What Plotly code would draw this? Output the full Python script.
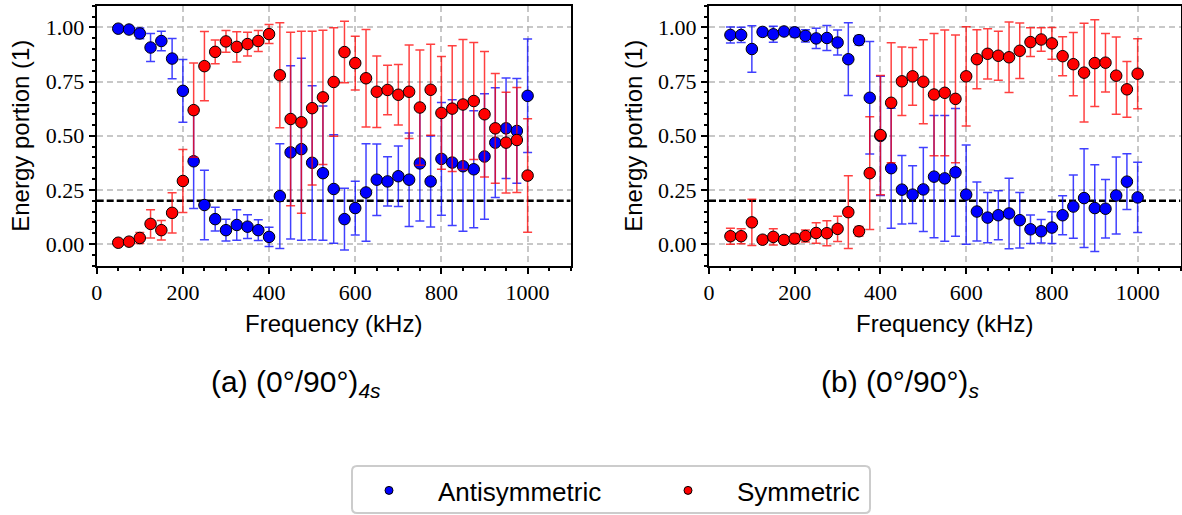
import plotly.graph_objects as go

# ---------------- data ----------------
freq_khz = [50, 75, 100, 125, 150, 175, 200, 225, 250, 275, 300, 325, 350, 375, 400,
            425, 450, 475, 500, 525, 550, 575, 600, 625, 650, 675, 700, 725, 750, 775,
            800, 825, 850, 875, 900, 925, 950, 975, 1000]

# (a) (0/90)_4s
a_antisym = [0.994, 0.990, 0.972, 0.907, 0.937, 0.856, 0.707, 0.382, 0.180, 0.115,
             0.064, 0.088, 0.080, 0.064, 0.033, 0.221, 0.423, 0.438, 0.375, 0.327,
             0.254, 0.115, 0.166, 0.238, 0.297, 0.289, 0.313, 0.297, 0.372, 0.289,
             0.393, 0.376, 0.359, 0.345, 0.404, 0.468, 0.534, 0.522, 0.684]
a_sym = [0.006, 0.011, 0.028, 0.093, 0.064, 0.144, 0.291, 0.618, 0.821, 0.887,
         0.935, 0.910, 0.923, 0.937, 0.969, 0.779, 0.577, 0.562, 0.627, 0.677,
         0.748, 0.886, 0.835, 0.765, 0.703, 0.711, 0.689, 0.703, 0.630, 0.712,
         0.605, 0.625, 0.644, 0.660, 0.599, 0.534, 0.468, 0.480, 0.316]
a_antisym_err = [0.008, 0.012, 0.025, 0.065, 0.045, 0.093, 0.145, 0.218, 0.160, 0.055,
                 0.050, 0.070, 0.055, 0.048, 0.044, 0.242, 0.400, 0.420, 0.355, 0.310,
                 0.250, 0.142, 0.124, 0.225, 0.165, 0.114, 0.140, 0.216, 0.266, 0.210,
                 0.260, 0.290, 0.300, 0.270, 0.290, 0.253, 0.232, 0.242, 0.262]
a_sym_err = [0.008, 0.012, 0.025, 0.065, 0.045, 0.093, 0.145, 0.218, 0.160, 0.055,
             0.050, 0.070, 0.055, 0.048, 0.044, 0.242, 0.400, 0.420, 0.355, 0.310,
             0.250, 0.142, 0.124, 0.225, 0.165, 0.114, 0.140, 0.216, 0.266, 0.210,
             0.260, 0.290, 0.300, 0.270, 0.290, 0.253, 0.232, 0.242, 0.262]

# (b) (0/90)_s
b_antisym = [0.965, 0.965, 0.900, 0.979, 0.968, 0.981, 0.977, 0.961, 0.949, 0.951,
             0.930, 0.853, 0.941, 0.675, 0.499, 0.350, 0.251, 0.228, 0.252, 0.311,
             0.303, 0.331, 0.228, 0.150, 0.122, 0.133, 0.141, 0.110, 0.068, 0.059,
             0.076, 0.133, 0.173, 0.212, 0.166, 0.163, 0.224, 0.288, 0.215]
b_sym = [0.036, 0.036, 0.100, 0.020, 0.033, 0.019, 0.025, 0.037, 0.051, 0.050,
         0.070, 0.147, 0.059, 0.327, 0.503, 0.652, 0.751, 0.774, 0.749, 0.690,
         0.698, 0.670, 0.774, 0.853, 0.878, 0.869, 0.862, 0.892, 0.932, 0.944,
         0.926, 0.867, 0.830, 0.791, 0.835, 0.837, 0.777, 0.714, 0.786]
b_antisym_err = [0.037, 0.035, 0.107, 0.017, 0.037, 0.012, 0.022, 0.028, 0.047, 0.058,
                 0.058, 0.168, 0.022, 0.260, 0.275, 0.277, 0.158, 0.133, 0.194, 0.282,
                 0.290, 0.295, 0.229, 0.136, 0.116, 0.113, 0.163, 0.128, 0.066, 0.054,
                 0.073, 0.090, 0.146, 0.228, 0.200, 0.135, 0.178, 0.129, 0.162]
b_sym_err = [0.037, 0.035, 0.107, 0.017, 0.037, 0.012, 0.022, 0.028, 0.047, 0.058,
             0.058, 0.168, 0.022, 0.260, 0.275, 0.277, 0.158, 0.133, 0.194, 0.282,
             0.290, 0.295, 0.229, 0.136, 0.116, 0.113, 0.163, 0.128, 0.066, 0.054,
             0.073, 0.090, 0.146, 0.228, 0.200, 0.135, 0.178, 0.129, 0.162]

threshold = 0.2
x_limits = [0, 1100]
y_limits = [-0.1, 1.1]
x_ticks = [0, 200, 400, 600, 800, 1000]
y_ticks = [0.0, 0.25, 0.5, 0.75, 1.0]
series_names = ["Antisymmetric", "Symmetric"]
captions = ["(a) (0°/90°)<sub><i>4s</i></sub>", "(b) (0°/90°)<sub><i>s</i></sub>"]

# ---------------- style ----------------
W, H = 1182, 515
BLUE = "#0000ff"
RED = "#ff0000"
BLUE_ERR = "rgba(0,0,255,0.75)"
RED_ERR = "rgba(255,0,0,0.75)"
SANS = "Liberation Sans, Arial, sans-serif"
SERIF = "Liberation Serif, Times New Roman, serif"

fig = go.Figure()

panels = [
    ("x", "y", a_antisym, a_antisym_err, a_sym, a_sym_err),
    ("x2", "y2", b_antisym, b_antisym_err, b_sym, b_sym_err),
]

for xa, ya, anti, anti_err, sym, sym_err in panels:
    # threshold line (below markers)
    fig.add_trace(go.Scatter(
        x=x_limits, y=[threshold, threshold], xaxis=xa, yaxis=ya,
        mode="lines", line=dict(color="black", width=2.5, dash="7px,3px"),
        showlegend=False, hoverinfo="skip"))
    for vals, errs, col, ecol in ((anti, anti_err, BLUE, BLUE_ERR),
                                  (sym, sym_err, RED, RED_ERR)):
        fig.add_trace(go.Scatter(
            x=freq_khz, y=vals, xaxis=xa, yaxis=ya, mode="markers",
            marker=dict(size=11.5, color=col, line=dict(color="black", width=1)),
            error_y=dict(type="data", array=errs, visible=True, color=ecol,
                         thickness=1.5, width=4.5),
            showlegend=False))

# legend-only entries
for name, col in zip(series_names, (BLUE, RED)):
    fig.add_trace(go.Scatter(
        x=[None], y=[None], mode="markers", name=name,
        marker=dict(size=8, color=col, line=dict(color="black", width=1)),
        showlegend=True))

y_dom = [1 - 265.7 / H, 1 - 5.7 / H]
x_doms = [[96.7 / W, 570.7 / W], [709.0 / W, 1180.5 / W]]

axis_common = dict(
    showline=True, linecolor="black", linewidth=2, mirror=True,
    showgrid=True, gridcolor="rgba(176,176,176,0.7)", griddash="6px,4px", gridwidth=1.5,
    ticks="outside", ticklen=6, tickwidth=2, tickcolor="black",
    tickfont=dict(family=SERIF, size=22, color="black"),
    zeroline=False, automargin=False,
)

for i, (xd) in enumerate(x_doms):
    sfx = "" if i == 0 else "2"
    fig.update_layout(**{
        f"xaxis{sfx}": dict(
            domain=xd, range=x_limits, tickvals=x_ticks, anchor=f"y{sfx}",
            minor=dict(dtick=50, ticklen=3, tickwidth=1.5, tickcolor="black", ticks="outside", showgrid=False),
            title=dict(text="Frequency (kHz)", font=dict(family=SANS, size=24, color="black"), standoff=11),
            **axis_common),
        f"yaxis{sfx}": dict(
            domain=y_dom, range=y_limits, tickvals=y_ticks, tickformat=".2f", anchor=f"x{sfx}",
            minor=dict(dtick=0.05, tick0=0, ticklen=3, tickwidth=1.5, tickcolor="black", ticks="outside", showgrid=False),
            title=dict(text="Energy portion (1)", font=dict(family=SANS, size=24, color="black"), standoff=9),
            **axis_common),
    })

for cap, xc in zip(captions, (296 / W, 900 / W)):
    fig.add_annotation(text=cap, xref="paper", yref="paper", x=xc, y=1 - 383 / H,
                       xanchor="center", yanchor="middle", showarrow=False,
                       font=dict(family=SANS, size=30, color="black"))

# legend frame (rounded, light grey) drawn as a paper-space path
fx0, fx1 = 352 / W, 870 / W
fy0, fy1 = 1 - 513 / H, 1 - 466 / H
rx, ry = 5 / W, 5 / H
frame_path = (f"M {fx0 + rx} {fy1} L {fx1 - rx} {fy1} Q {fx1} {fy1} {fx1} {fy1 - ry} "
              f"L {fx1} {fy0 + ry} Q {fx1} {fy0} {fx1 - rx} {fy0} "
              f"L {fx0 + rx} {fy0} Q {fx0} {fy0} {fx0} {fy0 + ry} "
              f"L {fx0} {fy1 - ry} Q {fx0} {fy1} {fx0 + rx} {fy1} Z")
fig.add_shape(type="path", path=frame_path, xref="paper", yref="paper",
              line=dict(color="#cccccc", width=2), fillcolor="rgba(0,0,0,0)", layer="above")

fig.update_layout(
    width=W, height=H, margin=dict(l=0, r=0, t=0, b=0),
    plot_bgcolor="white", paper_bgcolor="white",
    legend=dict(orientation="h", x=340 / W, xanchor="left", y=1 - 467 / H, yanchor="top",
                borderwidth=0, bgcolor="rgba(0,0,0,0)",
                font=dict(family=SANS, size=26, color="black"),
                itemwidth=88, entrywidth=196, entrywidthmode="pixels"),
    showlegend=True,
)

fig.write_html("out.html")
